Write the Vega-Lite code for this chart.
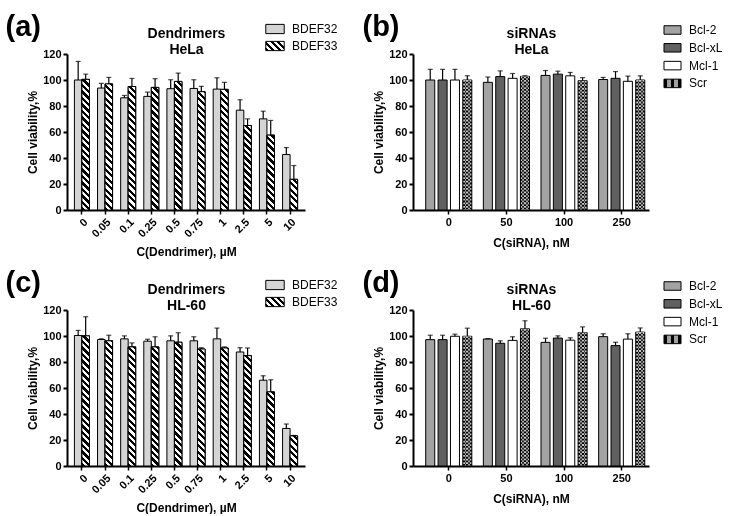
{
"$schema": "https://vega.github.io/schema/vega-lite/v6.json",
"padding": {"left": 5, "top": 12, "right": 0, "bottom": 0},
"background": "white",
"config": {
  "font": "Liberation Sans",
  "view": {"stroke": null},
  "axis": {"domainColor": "black", "domainWidth": 2, "tickColor": "black", "tickWidth": 2, "tickSize": 4, "labelColor": "black", "labelFontWeight": "bold", "labelFontSize": 11, "labelFont": "Liberation Sans", "titleFont": "Liberation Sans", "titleFontSize": 12, "titleFontWeight": "bold", "titleColor": "black", "grid": false, "labelPadding": 2},
  "legend": {"labelFont": "Liberation Sans", "labelFontSize": 12, "labelColor": "black", "padding": 0, "labelOffset": 7, "symbolStrokeColor": "black", "symbolStrokeWidth": 1, "symbolType": "M-1,-0.5H1V0.5H-1Z"}
},
"params": [
  {"name": "hatch", "value": [
{"offset":0,"color":"#000"},{"offset":0.01923,"color":"#000"},{"offset":0.01923,"color":"#fff"},{"offset":0.03846,"color":"#fff"},
{"offset":0.03846,"color":"#000"},{"offset":0.05769,"color":"#000"},{"offset":0.05769,"color":"#fff"},{"offset":0.07692,"color":"#fff"},
{"offset":0.07692,"color":"#000"},{"offset":0.09615,"color":"#000"},{"offset":0.09615,"color":"#fff"},{"offset":0.11538,"color":"#fff"},
{"offset":0.11538,"color":"#000"},{"offset":0.13462,"color":"#000"},{"offset":0.13462,"color":"#fff"},{"offset":0.15385,"color":"#fff"},
{"offset":0.15385,"color":"#000"},{"offset":0.17308,"color":"#000"},{"offset":0.17308,"color":"#fff"},{"offset":0.19231,"color":"#fff"},
{"offset":0.19231,"color":"#000"},{"offset":0.21154,"color":"#000"},{"offset":0.21154,"color":"#fff"},{"offset":0.23077,"color":"#fff"},
{"offset":0.23077,"color":"#000"},{"offset":0.25,"color":"#000"},{"offset":0.25,"color":"#fff"},{"offset":0.26923,"color":"#fff"},
{"offset":0.26923,"color":"#000"},{"offset":0.28846,"color":"#000"},{"offset":0.28846,"color":"#fff"},{"offset":0.30769,"color":"#fff"},
{"offset":0.30769,"color":"#000"},{"offset":0.32692,"color":"#000"},{"offset":0.32692,"color":"#fff"},{"offset":0.34615,"color":"#fff"},
{"offset":0.34615,"color":"#000"},{"offset":0.36538,"color":"#000"},{"offset":0.36538,"color":"#fff"},{"offset":0.38462,"color":"#fff"},
{"offset":0.38462,"color":"#000"},{"offset":0.40385,"color":"#000"},{"offset":0.40385,"color":"#fff"},{"offset":0.42308,"color":"#fff"},
{"offset":0.42308,"color":"#000"},{"offset":0.44231,"color":"#000"},{"offset":0.44231,"color":"#fff"},{"offset":0.46154,"color":"#fff"},
{"offset":0.46154,"color":"#000"},{"offset":0.48077,"color":"#000"},{"offset":0.48077,"color":"#fff"},{"offset":0.5,"color":"#fff"},
{"offset":0.5,"color":"#000"},{"offset":0.51923,"color":"#000"},{"offset":0.51923,"color":"#fff"},{"offset":0.53846,"color":"#fff"},
{"offset":0.53846,"color":"#000"},{"offset":0.55769,"color":"#000"},{"offset":0.55769,"color":"#fff"},{"offset":0.57692,"color":"#fff"},
{"offset":0.57692,"color":"#000"},{"offset":0.59615,"color":"#000"},{"offset":0.59615,"color":"#fff"},{"offset":0.61538,"color":"#fff"},
{"offset":0.61538,"color":"#000"},{"offset":0.63462,"color":"#000"},{"offset":0.63462,"color":"#fff"},{"offset":0.65385,"color":"#fff"},
{"offset":0.65385,"color":"#000"},{"offset":0.67308,"color":"#000"},{"offset":0.67308,"color":"#fff"},{"offset":0.69231,"color":"#fff"},
{"offset":0.69231,"color":"#000"},{"offset":0.71154,"color":"#000"},{"offset":0.71154,"color":"#fff"},{"offset":0.73077,"color":"#fff"},
{"offset":0.73077,"color":"#000"},{"offset":0.75,"color":"#000"},{"offset":0.75,"color":"#fff"},{"offset":0.76923,"color":"#fff"},
{"offset":0.76923,"color":"#000"},{"offset":0.78846,"color":"#000"},{"offset":0.78846,"color":"#fff"},{"offset":0.80769,"color":"#fff"},
{"offset":0.80769,"color":"#000"},{"offset":0.82692,"color":"#000"},{"offset":0.82692,"color":"#fff"},{"offset":0.84615,"color":"#fff"},
{"offset":0.84615,"color":"#000"},{"offset":0.86538,"color":"#000"},{"offset":0.86538,"color":"#fff"},{"offset":0.88462,"color":"#fff"},
{"offset":0.88462,"color":"#000"},{"offset":0.90385,"color":"#000"},{"offset":0.90385,"color":"#fff"},{"offset":0.92308,"color":"#fff"},
{"offset":0.92308,"color":"#000"},{"offset":0.94231,"color":"#000"},{"offset":0.94231,"color":"#fff"},{"offset":0.96154,"color":"#fff"},
{"offset":0.96154,"color":"#000"},{"offset":0.98077,"color":"#000"},{"offset":0.98077,"color":"#fff"},{"offset":1,"color":"#fff"}
  ]},
  {"name": "g33", "value": {"gradient": "linear", "x1": 0, "y1": 1, "x2": 1.413, "y2": 0.293, "stops": [{"offset":0,"color":"#000"},{"offset":0.1,"color":"#000"},{"offset":0.1,"color":"#fff"},{"offset":0.2,"color":"#fff"},{"offset":0.2,"color":"#000"},{"offset":0.3,"color":"#000"},{"offset":0.3,"color":"#fff"},{"offset":0.4,"color":"#fff"},{"offset":0.4,"color":"#000"},{"offset":0.5,"color":"#000"},{"offset":0.5,"color":"#fff"},{"offset":0.6,"color":"#fff"},{"offset":0.6,"color":"#000"},{"offset":0.7,"color":"#000"},{"offset":0.7,"color":"#fff"},{"offset":0.8,"color":"#fff"},{"offset":0.8,"color":"#000"},{"offset":0.9,"color":"#000"},{"offset":0.9,"color":"#fff"},{"offset":1,"color":"#fff"}]}},
  {"name": "gscr", "value": {"gradient": "linear", "x1": 0, "y1": 0, "x2": 1, "y2": 0, "stops": [{"offset":0,"color":"#000"},{"offset":0.2,"color":"#000"},{"offset":0.2,"color":"#a0a0a0"},{"offset":0.4,"color":"#a0a0a0"},{"offset":0.4,"color":"#000"},{"offset":0.6,"color":"#000"},{"offset":0.6,"color":"#a0a0a0"},{"offset":0.8,"color":"#a0a0a0"},{"offset":0.8,"color":"#000"},{"offset":1,"color":"#000"}]}}
],
"datasets": {
  "a": [
    {"conc":"0","series":"BDEF32","v":100,"hi":114.3},{"conc":"0","series":"BDEF33","v":100.5,"hi":104.5},
    {"conc":"0.05","series":"BDEF32","v":93.8,"hi":97.4},{"conc":"0.05","series":"BDEF33","v":97,"hi":102},
    {"conc":"0.1","series":"BDEF32","v":86.3,"hi":88.1},{"conc":"0.1","series":"BDEF33","v":95,"hi":101.2},
    {"conc":"0.25","series":"BDEF32","v":87.4,"hi":90.7},{"conc":"0.25","series":"BDEF33","v":94.3,"hi":101},
    {"conc":"0.5","series":"BDEF32","v":93.3,"hi":100.2},{"conc":"0.5","series":"BDEF33","v":98.9,"hi":105.3},
    {"conc":"0.75","series":"BDEF32","v":93.5,"hi":100.2},{"conc":"0.75","series":"BDEF33","v":91,"hi":95.1},
    {"conc":"1","series":"BDEF32","v":93,"hi":101.7},{"conc":"1","series":"BDEF33","v":92.8,"hi":98.2},
    {"conc":"2.5","series":"BDEF32","v":76.8,"hi":84.8},{"conc":"2.5","series":"BDEF33","v":65,"hi":70.1},
    {"conc":"5","series":"BDEF32","v":70.1,"hi":76},{"conc":"5","series":"BDEF33","v":57.6,"hi":68.9},
    {"conc":"10","series":"BDEF32","v":42.7,"hi":48},{"conc":"10","series":"BDEF33","v":23.6,"hi":34.2}
  ],
  "c": [
    {"conc":"0","series":"BDEF32","v":100.4,"hi":104.3},{"conc":"0","series":"BDEF33","v":100.1,"hi":114.8},
    {"conc":"0.05","series":"BDEF32","v":97.3,"hi":97.8},{"conc":"0.05","series":"BDEF33","v":96.3,"hi":100.6},
    {"conc":"0.1","series":"BDEF32","v":97.8,"hi":100.1},{"conc":"0.1","series":"BDEF33","v":91.6,"hi":94.7},
    {"conc":"0.25","series":"BDEF32","v":96,"hi":97.5},{"conc":"0.25","series":"BDEF33","v":91.6,"hi":99.4},
    {"conc":"0.5","series":"BDEF32","v":96.3,"hi":100.1},{"conc":"0.5","series":"BDEF33","v":95.2,"hi":102.5},
    {"conc":"0.75","series":"BDEF32","v":96.3,"hi":99.4},{"conc":"0.75","series":"BDEF33","v":90,"hi":91},
    {"conc":"1","series":"BDEF32","v":97.8,"hi":106.1},{"conc":"1","series":"BDEF33","v":90.8,"hi":91.6},
    {"conc":"2.5","series":"BDEF32","v":87.7,"hi":91},{"conc":"2.5","series":"BDEF33","v":84.9,"hi":90.8},
    {"conc":"5","series":"BDEF32","v":66,"hi":69.4},{"conc":"5","series":"BDEF33","v":57,"hi":66.3},
    {"conc":"10","series":"BDEF32","v":28.9,"hi":32.3},{"conc":"10","series":"BDEF33","v":23.2,"hi":23.5}
  ],
  "b": [
    {"conc":"0","series":"Bcl-2","v":100,"hi":108.2},{"conc":"0","series":"Bcl-xL","v":100,"hi":108.2},{"conc":"0","series":"Mcl-1","v":100,"hi":108.2},{"conc":"0","series":"Scr","v":100,"hi":103.3},
    {"conc":"50","series":"Bcl-2","v":98.2,"hi":102.3},{"conc":"50","series":"Bcl-xL","v":102.6,"hi":107},{"conc":"50","series":"Mcl-1","v":101.3,"hi":105},{"conc":"50","series":"Scr","v":102.8,"hi":103.3},
    {"conc":"100","series":"Bcl-2","v":103.5,"hi":107.3},{"conc":"100","series":"Bcl-xL","v":104.5,"hi":106.8},{"conc":"100","series":"Mcl-1","v":103.2,"hi":105.8},{"conc":"100","series":"Scr","v":99.5,"hi":101.8},
    {"conc":"250","series":"Bcl-2","v":100.4,"hi":102},{"conc":"250","series":"Bcl-xL","v":101.3,"hi":106.5},{"conc":"250","series":"Mcl-1","v":99,"hi":103},{"conc":"250","series":"Scr","v":100,"hi":103.2}
  ],
  "d": [
    {"conc":"0","series":"Bcl-2","v":97.2,"hi":100.6},{"conc":"0","series":"Bcl-xL","v":97.2,"hi":100.6},{"conc":"0","series":"Mcl-1","v":99.8,"hi":101.4},{"conc":"0","series":"Scr","v":99.8,"hi":106},
    {"conc":"50","series":"Bcl-2","v":97.7,"hi":98},{"conc":"50","series":"Bcl-xL","v":94.4,"hi":96.3},{"conc":"50","series":"Mcl-1","v":96.6,"hi":99.4},{"conc":"50","series":"Scr","v":105.5,"hi":111.7},
    {"conc":"100","series":"Bcl-2","v":95.1,"hi":98.3},{"conc":"100","series":"Bcl-xL","v":98.4,"hi":100.1},{"conc":"100","series":"Mcl-1","v":96.8,"hi":98.6},{"conc":"100","series":"Scr","v":102.7,"hi":107},
    {"conc":"250","series":"Bcl-2","v":99.5,"hi":101.7},{"conc":"250","series":"Bcl-xL","v":92.6,"hi":95.2},{"conc":"250","series":"Mcl-1","v":97.6,"hi":101.7},{"conc":"250","series":"Scr","v":103,"hi":106.2}
  ]
},
"columns": 2,
"bounds": "flush",
"spacing": {"row": 100, "column": 108},
"resolve": {"scale": {"fill": "independent", "xOffset": "independent", "x": "independent", "y": "independent"}, "legend": {"fill": "independent"}},
"concat": [
  {
    "width": 238, "height": 156,
    "data": {"name": "a"},
    "resolve": {"axis": {"x": "independent", "y": "independent"}},
    "layer": [
      {"mark": {"type": "bar", "stroke": "black", "strokeWidth": 1},
       "encoding": {
         "x": {"field": "conc", "type": "nominal", "sort": null, "scale": {"paddingInner": 0.35, "paddingOuter": 0.32}, "axis": {"title": "C(Dendrimer), µM", "labelAngle": -45, "tickWidth": 1.5, "titlePadding": 8}},
         "xOffset": {"field": "series", "type": "nominal", "scale": {"paddingInner": 0, "paddingOuter": 0}},
         "y": {"field": "v", "type": "quantitative", "scale": {"domain": [0, 120], "nice": false}, "axis": {"title": "Cell viability,%", "values": [0,20,40,60,80,100,120], "titlePadding": 3}},
         "fill": {"field": "series", "type": "nominal", "scale": {"domain": ["BDEF32","BDEF33"], "range": ["#d4d4d4", {"expr": "g33"}]},
                  "legend": {"title": null, "orient": "none", "legendX": 198, "legendY": -35, "symbolSize": 340, "rowPadding": 0}}
       }},
      {"transform": [{"filter": "datum.series === 'BDEF33'"}],
       "mark": {"type": "bar", "stroke": "black", "strokeWidth": 1, "fill": {"expr": "{gradient: 'linear', x1: 0, y1: 1, x2: 169*7.52/(56.55+pow(datum.v*1.3,2)), y2: 1-169*datum.v*1.3/(56.55+pow(datum.v*1.3,2)), stops: hatch}"}},
       "encoding": {
         "x": {"field": "conc", "type": "nominal", "sort": null, "axis": null},
         "xOffset": {"field": "series", "type": "nominal"},
         "y": {"field": "v", "type": "quantitative", "axis": null}
       }},
      {"mark": {"type": "rule", "color": "black", "strokeWidth": 1.2},
       "encoding": {
         "x": {"field": "conc", "type": "nominal", "sort": null, "axis": {"orient": "top", "labels": false, "ticks": false, "domain": false, "title": ["Dendrimers", "HeLa"], "titleFontSize": 14, "titleLineHeight": 16, "titleX": 119, "titleY": -17, "titleAlign": "center", "titleBaseline": "alphabetic"}},
         "xOffset": {"field": "series", "type": "nominal"},
         "y": {"field": "v", "type": "quantitative", "axis": {"orient": "right", "labels": false, "ticks": false, "domain": false, "title": "(a)", "titleAngle": 0, "titleFontSize": 29, "titleX": -300, "titleY": -19, "titleAlign": "left", "titleBaseline": "alphabetic"}},
         "y2": {"field": "hi"}
       }},
      {"mark": {"type": "tick", "orient": "horizontal", "color": "black", "size": 5, "thickness": 1.2},
       "encoding": {
         "x": {"field": "conc", "type": "nominal", "sort": null, "axis": null},
         "xOffset": {"field": "series", "type": "nominal"},
         "y": {"field": "hi", "type": "quantitative", "axis": null}
       }}
    ]
  },
  {
    "width": 236, "height": 156,
    "data": {"name": "b"},
    "resolve": {"axis": {"x": "independent", "y": "independent"}},
    "layer": [
      {"mark": {"type": "bar", "stroke": "black", "strokeWidth": 1},
       "encoding": {
         "x": {"field": "conc", "type": "nominal", "sort": null, "scale": {"paddingInner": 0.2, "paddingOuter": 0.147, "align": 0.75}, "axis": {"title": "C(siRNA), nM", "labelAngle": 0, "tickWidth": 1.5, "titlePadding": 10}},
         "xOffset": {"field": "series", "type": "nominal", "scale": {"paddingInner": 0.27, "paddingOuter": 0}},
         "y": {"field": "v", "type": "quantitative", "scale": {"domain": [0, 120], "nice": false}, "axis": {"title": "Cell viability,%", "values": [0,20,40,60,80,100,120], "titlePadding": 3}},
         "fill": {"field": "series", "type": "nominal", "scale": {"domain": ["Bcl-2","Bcl-xL","Mcl-1","Scr"], "range": ["#a3a3a3", "#606060", "#ffffff", {"expr": "gscr"}]},
                  "legend": {"title": null, "orient": "none", "legendX": 250, "legendY": -33.5, "symbolSize": 290, "rowPadding": 1.8}}
       }},
      {"transform": [{"filter": "datum.series === 'Scr'"}],
       "mark": {"type": "rule", "stroke": "#c8c8c8", "strokeWidth": 8, "strokeDash": [1.8, 1.8], "blend": "difference"},
       "encoding": {
         "x": {"field": "conc", "type": "nominal", "sort": null, "axis": null},
         "xOffset": {"field": "series", "type": "nominal"},
         "y": {"field": "v", "type": "quantitative", "axis": null},
         "y2": {"datum": 0}
       }},
      {"mark": {"type": "rule", "color": "black", "strokeWidth": 1.2},
       "encoding": {
         "x": {"field": "conc", "type": "nominal", "sort": null, "axis": {"orient": "top", "labels": false, "ticks": false, "domain": false, "title": ["siRNAs", "HeLa"], "titleFontSize": 14, "titleLineHeight": 16, "titleX": 118, "titleY": -17, "titleAlign": "center", "titleBaseline": "alphabetic"}},
         "xOffset": {"field": "series", "type": "nominal"},
         "y": {"field": "v", "type": "quantitative", "axis": {"orient": "right", "labels": false, "ticks": false, "domain": false, "title": "(b)", "titleAngle": 0, "titleFontSize": 29, "titleX": -287, "titleY": -19, "titleAlign": "left", "titleBaseline": "alphabetic"}},
         "y2": {"field": "hi"}
       }},
      {"mark": {"type": "tick", "orient": "horizontal", "color": "black", "size": 5, "thickness": 1.2},
       "encoding": {
         "x": {"field": "conc", "type": "nominal", "sort": null, "axis": null},
         "xOffset": {"field": "series", "type": "nominal"},
         "y": {"field": "hi", "type": "quantitative", "axis": null}
       }}
    ]
  },
  {
    "width": 238, "height": 156,
    "data": {"name": "c"},
    "resolve": {"axis": {"x": "independent", "y": "independent"}},
    "layer": [
      {"mark": {"type": "bar", "stroke": "black", "strokeWidth": 1},
       "encoding": {
         "x": {"field": "conc", "type": "nominal", "sort": null, "scale": {"paddingInner": 0.35, "paddingOuter": 0.32}, "axis": {"title": "C(Dendrimer), µM", "labelAngle": -45, "tickWidth": 1.5, "titlePadding": 8}},
         "xOffset": {"field": "series", "type": "nominal", "scale": {"paddingInner": 0, "paddingOuter": 0}},
         "y": {"field": "v", "type": "quantitative", "scale": {"domain": [0, 120], "nice": false}, "axis": {"title": "Cell viability,%", "values": [0,20,40,60,80,100,120], "titlePadding": 3}},
         "fill": {"field": "series", "type": "nominal", "scale": {"domain": ["BDEF32","BDEF33"], "range": ["#d4d4d4", {"expr": "g33"}]},
                  "legend": {"title": null, "orient": "none", "legendX": 198, "legendY": -35, "symbolSize": 340, "rowPadding": 0}}
       }},
      {"transform": [{"filter": "datum.series === 'BDEF33'"}],
       "mark": {"type": "bar", "stroke": "black", "strokeWidth": 1, "fill": {"expr": "{gradient: 'linear', x1: 0, y1: 1, x2: 169*7.52/(56.55+pow(datum.v*1.3,2)), y2: 1-169*datum.v*1.3/(56.55+pow(datum.v*1.3,2)), stops: hatch}"}},
       "encoding": {
         "x": {"field": "conc", "type": "nominal", "sort": null, "axis": null},
         "xOffset": {"field": "series", "type": "nominal"},
         "y": {"field": "v", "type": "quantitative", "axis": null}
       }},
      {"mark": {"type": "rule", "color": "black", "strokeWidth": 1.2},
       "encoding": {
         "x": {"field": "conc", "type": "nominal", "sort": null, "axis": {"orient": "top", "labels": false, "ticks": false, "domain": false, "title": ["Dendrimers", "HL-60"], "titleFontSize": 14, "titleLineHeight": 16, "titleX": 119, "titleY": -17, "titleAlign": "center", "titleBaseline": "alphabetic"}},
         "xOffset": {"field": "series", "type": "nominal"},
         "y": {"field": "v", "type": "quantitative", "axis": {"orient": "right", "labels": false, "ticks": false, "domain": false, "title": "(c)", "titleAngle": 0, "titleFontSize": 29, "titleX": -300, "titleY": -19, "titleAlign": "left", "titleBaseline": "alphabetic"}},
         "y2": {"field": "hi"}
       }},
      {"mark": {"type": "tick", "orient": "horizontal", "color": "black", "size": 5, "thickness": 1.2},
       "encoding": {
         "x": {"field": "conc", "type": "nominal", "sort": null, "axis": null},
         "xOffset": {"field": "series", "type": "nominal"},
         "y": {"field": "hi", "type": "quantitative", "axis": null}
       }}
    ]
  },
  {
    "width": 236, "height": 156,
    "data": {"name": "d"},
    "resolve": {"axis": {"x": "independent", "y": "independent"}},
    "layer": [
      {"mark": {"type": "bar", "stroke": "black", "strokeWidth": 1},
       "encoding": {
         "x": {"field": "conc", "type": "nominal", "sort": null, "scale": {"paddingInner": 0.2, "paddingOuter": 0.147, "align": 0.75}, "axis": {"title": "C(siRNA), nM", "labelAngle": 0, "tickWidth": 1.5, "titlePadding": 10}},
         "xOffset": {"field": "series", "type": "nominal", "scale": {"paddingInner": 0.27, "paddingOuter": 0}},
         "y": {"field": "v", "type": "quantitative", "scale": {"domain": [0, 120], "nice": false}, "axis": {"title": "Cell viability,%", "values": [0,20,40,60,80,100,120], "titlePadding": 3}},
         "fill": {"field": "series", "type": "nominal", "scale": {"domain": ["Bcl-2","Bcl-xL","Mcl-1","Scr"], "range": ["#a3a3a3", "#606060", "#ffffff", {"expr": "gscr"}]},
                  "legend": {"title": null, "orient": "none", "legendX": 250, "legendY": -33.5, "symbolSize": 290, "rowPadding": 1.8}}
       }},
      {"transform": [{"filter": "datum.series === 'Scr'"}],
       "mark": {"type": "rule", "stroke": "#c8c8c8", "strokeWidth": 8, "strokeDash": [1.8, 1.8], "blend": "difference"},
       "encoding": {
         "x": {"field": "conc", "type": "nominal", "sort": null, "axis": null},
         "xOffset": {"field": "series", "type": "nominal"},
         "y": {"field": "v", "type": "quantitative", "axis": null},
         "y2": {"datum": 0}
       }},
      {"mark": {"type": "rule", "color": "black", "strokeWidth": 1.2},
       "encoding": {
         "x": {"field": "conc", "type": "nominal", "sort": null, "axis": {"orient": "top", "labels": false, "ticks": false, "domain": false, "title": ["siRNAs", "HL-60"], "titleFontSize": 14, "titleLineHeight": 16, "titleX": 118, "titleY": -17, "titleAlign": "center", "titleBaseline": "alphabetic"}},
         "xOffset": {"field": "series", "type": "nominal"},
         "y": {"field": "v", "type": "quantitative", "axis": {"orient": "right", "labels": false, "ticks": false, "domain": false, "title": "(d)", "titleAngle": 0, "titleFontSize": 29, "titleX": -287, "titleY": -19, "titleAlign": "left", "titleBaseline": "alphabetic"}},
         "y2": {"field": "hi"}
       }},
      {"mark": {"type": "tick", "orient": "horizontal", "color": "black", "size": 5, "thickness": 1.2},
       "encoding": {
         "x": {"field": "conc", "type": "nominal", "sort": null, "axis": null},
         "xOffset": {"field": "series", "type": "nominal"},
         "y": {"field": "hi", "type": "quantitative", "axis": null}
       }}
    ]
  }
]
}
